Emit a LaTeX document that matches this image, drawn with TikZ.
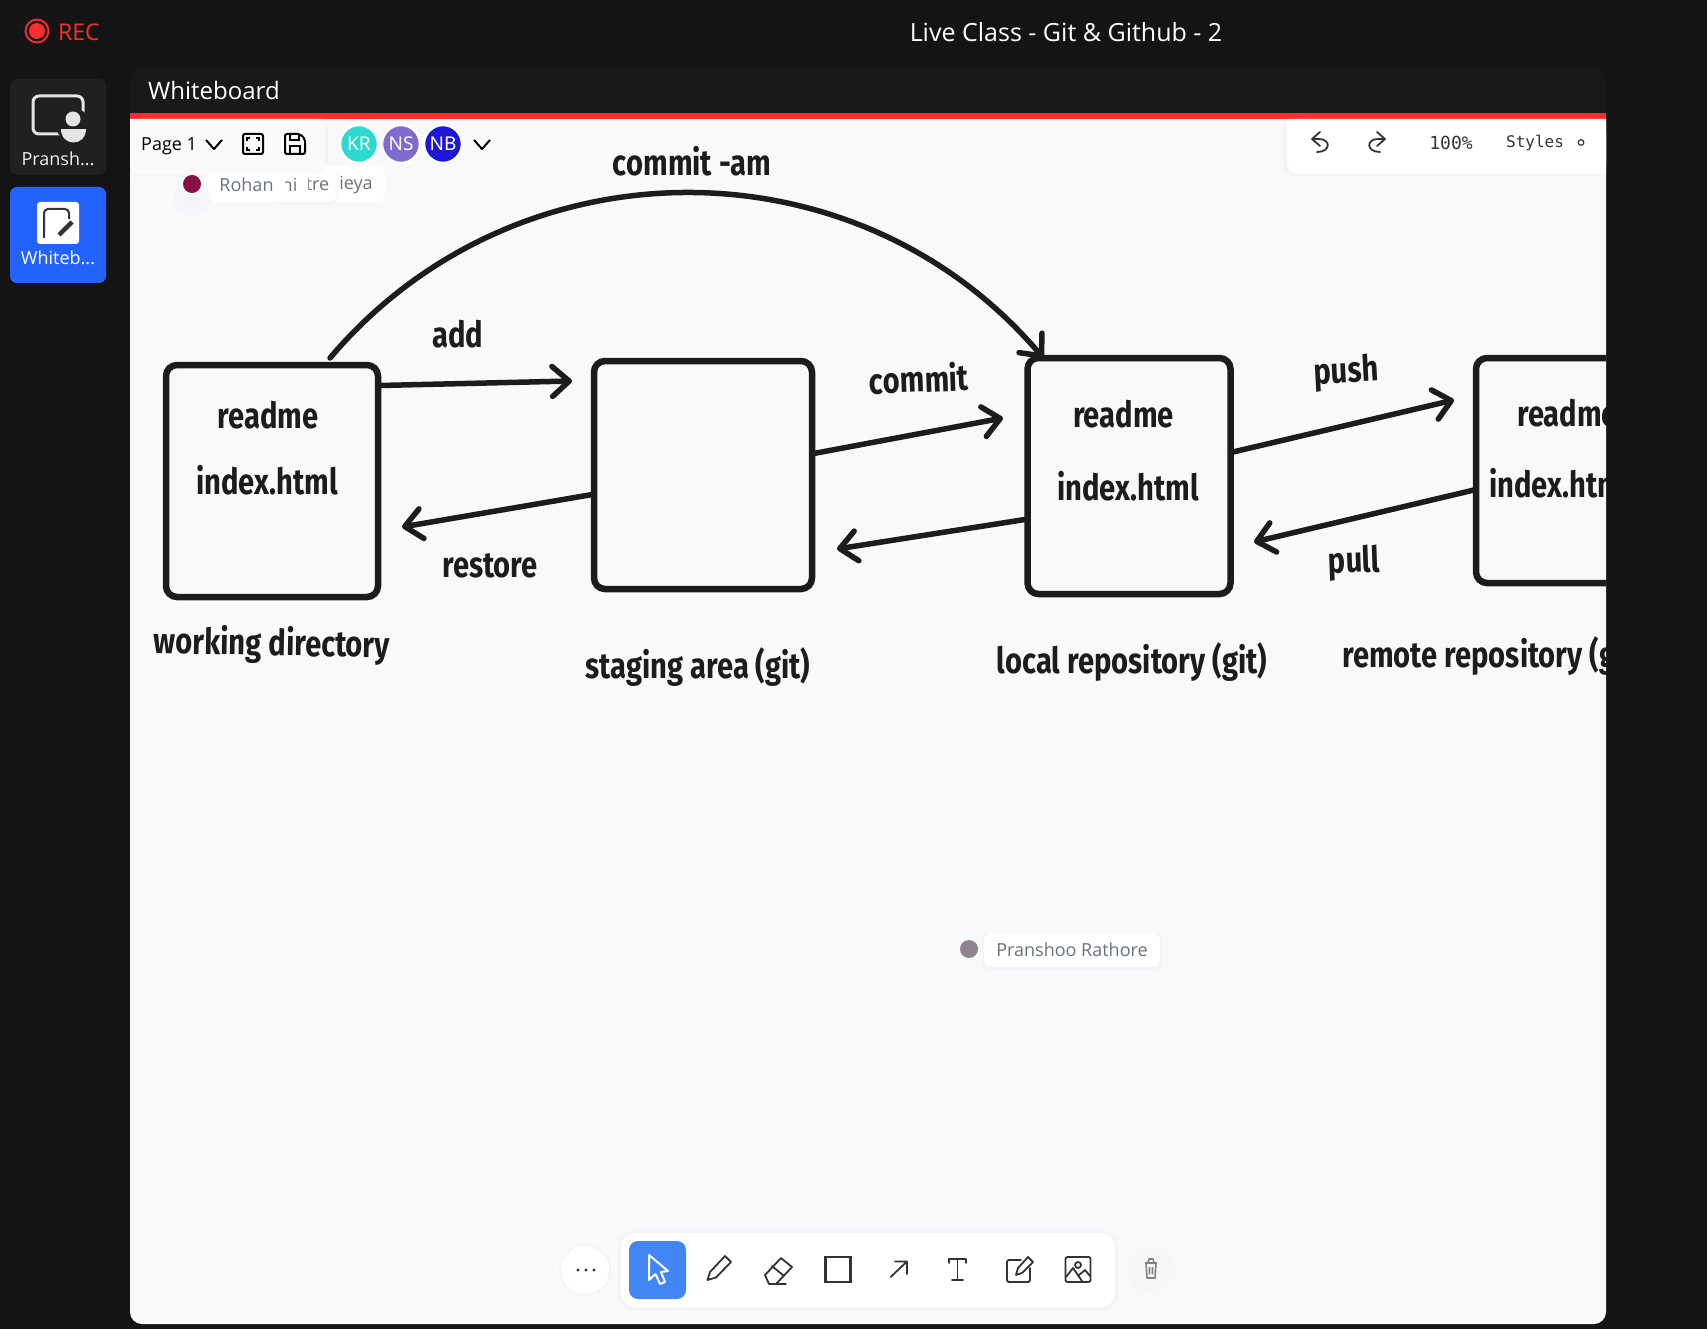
\documentclass[tikz,border=0pt]{standalone}
\usepackage{fontspec}
\usepackage{tikz}
\usetikzlibrary{arrows.meta}
\setmainfont{Noto Sans}
\setmonofont{DejaVu Sans Mono}
\newfontfamily\handfont[FakeStretch=.81,BoldFont={Fira Sans Bold}]{Fira Sans}
\newfontfamily\uifont{Open Sans}
\definecolor{bgdark}{HTML}{141414}
\definecolor{headdark}{HTML}{181818}
\definecolor{tiledark}{HTML}{202020}
\definecolor{boardcol}{HTML}{F8F9FB}
\definecolor{recred}{HTML}{FF2D2D}
\definecolor{tileblue}{HTML}{2463FB}
\definecolor{toolblue}{HTML}{4285F4}
\definecolor{inkcol}{HTML}{1C1C1C}
\definecolor{iconcol}{HTML}{333333}
\definecolor{greytxt}{HTML}{6B7280}
\definecolor{shadecol}{HTML}{F3F4F7}
\definecolor{dotrohan}{HTML}{851445}
\definecolor{dotpransh}{HTML}{8F8390}
\definecolor{avkrcol}{HTML}{2DD9CC}
\definecolor{avnscol}{HTML}{7F6BCF}
\definecolor{avnbcol}{HTML}{1E17D6}
\tikzstyle{box}=[draw=inkcol,line width=6.5pt,rounded corners=11pt,inner sep=0pt,outer sep=0pt]
\tikzstyle{arw}=[draw=inkcol,line width=5.5pt,line cap=round,-{Straight Barb[length=17pt,width=30pt,line width=5.5pt,round]}]
\tikzstyle{hand}=[inkcol,inner sep=0pt,font=\handfont\bfseries\fontsize{36}{36}\selectfont]
\tikzstyle{ui}=[inner sep=0pt,font=\uifont\fontsize{18}{18}\selectfont]
\tikzstyle{ico}=[draw=iconcol,line width=1.8pt,line join=round,line cap=round]
\tikzstyle{card}=[fill=white,rounded corners=8pt]
\tikzstyle{avatar}=[circle,draw=white,line width=2.5pt,minimum size=38pt,inner sep=0pt,text=white,font=\fontsize{19}{19}\selectfont]
\begin{document}
\begin{tikzpicture}[x=1pt,y=-1pt]
	\useasboundingbox[fill=bgdark] (0,0) rectangle (1707,1329);
	% window
	\fill[headdark,rounded corners=14pt] (130,68) rectangle (1606,130);
	\fill[boardcol,rounded corners=12pt] (130,110) rectangle (1606,1324);
	\fill[boardcol] (130,110) rectangle (1606,140);
	\fill[headdark] (130,90) rectangle (1606,113);
	\fill[recred] (130,113) rectangle (1606,119);
	\node[ui,white,anchor=west,font=\uifont\fontsize{24}{24}\selectfont] (boardtitle) at (148,91) {Whiteboard};
	\node[ui,white,font=\uifont\fontsize{25}{25}\selectfont] (classtitle) at (1066,32) {Live Class - Git \& Github - 2};
	% rec
	\draw[recred,line width=1.8pt] (37,31) circle (11.5pt);
	\fill[recred] (37,31) circle (8pt);
	\node[ui,recred,anchor=west,font=\uifont\fontsize{23}{23}\selectfont] (rectxt) at (58,32) {REC};
	% sidebar
	\fill[tiledark,rounded corners=7pt] (10,79) rectangle (106,175);
	\draw[white!90!black,line width=3pt,rounded corners=6pt] (33,96) rectangle (83,134);
	\fill[tiledark] (73,125) circle (17pt);
	\fill[white!90!black] (73,119) circle (7.5pt);
	\fill[white!90!black] (61,129) .. controls (61,147) and (86,147) .. (86,129) -- cycle;
	\node[ui,white!95!black] (tile1txt) at (58,159) {Pransh...};
	\fill[tileblue,rounded corners=7pt] (10,187) rectangle (106,283);
	\fill[white,rounded corners=3pt] (37,202) rectangle (79,244);
	\draw[iconcol,line width=2pt,rounded corners=4pt] (44,238) -- (44,209) -- (69,209) -- (69,219);
	\draw[iconcol,line width=4.5pt] (72,222) -- (59,235);
	\node[ui,white] (tile2txt) at (58,258) {Whiteb...};
	% top left card
	\fill[shadecol,rounded corners=10pt] (130,119) rectangle (328,177);
	\fill[card] (330,166) rectangle (385,202);
	\fill[card] (300,166) rectangle (341,202);
	\node[ui,text=greytxt] (roh3) at (356,185) {ieya};
	\fill[shadecol,rounded corners=8pt] (270,168) rectangle (338,205);
	\fill[card] (270,168) rectangle (337,202);
	\node[ui,text=greytxt] (roh2) at (317.5,185) {tre};
	\fill[card] (250,168) rectangle (308,202);
	\node[ui,text=greytxt] (roh1) at (289.5,185) {ni};
	\fill[card] (207,168) rectangle (285,202);
	\node[ui,text=greytxt] (roh0) at (246.5,185) {Rohan};
	\fill[shadecol!60!boardcol] (192,199) circle (18pt);
	\fill[shadecol] (192,199) circle (8pt);
	\fill[dotrohan] (192,184) circle (9pt);
	\fill[white!98!black] (130,119) -- (325,119) [rounded corners=10pt] -- (325,174) -- (130,174) [sharp corners] -- cycle;
	\node[ui,black,anchor=west] (pagetxt) at (141,146) {Page 1};
	\draw[black,line width=2pt,line join=round] (206,140) -- (214,149) -- (222,140);
	\draw[black,line width=2pt,rounded corners=2pt] (243,134) rectangle (263,154);
	\draw[black,line width=1.6pt] (247,141) -- (247,138) -- (250,138) (256,138) -- (259,138) -- (259,141) (259,147) -- (259,150) -- (256,150) (250,150) -- (247,150) -- (247,147);
	\draw[black,line width=2pt,rounded corners=2pt] (285,134) -- (300,134) -- (305,139) -- (305,154) -- (285,154) -- cycle;
	\draw[black,line width=1.6pt] (290,134) -- (290,140) -- (299,140) -- (299,134) (290,154) -- (290,146) -- (300,146) -- (300,154);
	% avatars
	\node[avatar,fill=avkrcol] (avkr) at (359,144) {KR};
	\node[avatar,fill=avnscol] (avns) at (401,144) {NS};
	\node[avatar,fill=avnbcol] (avnb) at (443,144) {NB};
	\draw[black,line width=2pt,line join=round] (474,140) -- (482,149) -- (490,140);
	% top right card
	\fill[shadecol,rounded corners=14pt] (1283,119) rectangle (1606,177);
	\fill[white] (1287,119) -- (1606,119) -- (1606,174) [rounded corners=12pt] -- (1287,174) [sharp corners] -- cycle;
	\draw[ico] (1320,132) -- (1312,139) -- (1320,146) (1312,139) -- (1319,139) .. controls (1331,139) and (1331,152) .. (1317,152);
	\draw[ico] (1377,132) -- (1385,139) -- (1377,146) (1385,139) -- (1378,139) .. controls (1366,139) and (1366,152) .. (1380,152);
	\node[ui,iconcol,font=\ttfamily\fontsize{18}{18}\selectfont] (zoomtxt) at (1451,143) {100\%};
	\node[ui,iconcol,font=\ttfamily\fontsize{16}{16}\selectfont] (stylestxt) at (1535,143) {Styles};
	\draw[iconcol,line width=1.2pt] (1581,142.5) circle (2.8pt);
	% other cursor
	\fill[dotpransh] (969,949) circle (9pt);
	\fill[shadecol,rounded corners=8pt] (982,933) rectangle (1162,970);
	\fill[card] (984,933) rectangle (1160,967);
	\node[ui,text=greytxt] (cursortxt) at (1072,950) {Pranshoo Rathore};
	% bottom toolbar
	\fill[shadecol] (585,1270) circle (26pt);
	\fill[white] (585,1270) circle (24pt);
	\foreach \dotx in {578,586,594} \fill[iconcol] (\dotx,1270) circle (1.6pt);
	\fill[shadecol,rounded corners=16pt] (618,1230) rectangle (1118,1310);
	\fill[white,rounded corners=14pt] (621,1233) rectangle (1115,1307);
	\fill[toolblue,rounded corners=9pt] (629,1241) rectangle (686,1299);
	\draw[white,line width=2pt,line join=round] (649,1255) -- (649,1280) -- (655.5,1274) -- (660,1284) -- (665,1282) -- (661,1272) -- (668,1271) -- cycle;
	\draw[ico] (707.5,1280) -- (710,1272) -- (725,1256) -- (731,1262) -- (716,1277.5) -- cycle;
	\draw[ico] (765,1275) -- (781,1258) -- (792,1267) -- (776,1284) -- (769,1284) -- cycle (772,1266) -- (784,1276) (772,1284) -- (786,1284);
	\draw[iconcol,line width=2.2pt] (825.5,1257) rectangle (850.5,1282);
	\draw[ico] (890.6,1277) -- (907,1261.5) (895,1261.5) -- (907,1261.5) -- (907,1274);
	\draw[ico] (949,1263) -- (949,1259) -- (966,1259) -- (966,1263) (957.5,1259) -- (957.5,1280) (952,1280) -- (963,1280);
	\draw[ico,rounded corners=2pt] (1021,1260) -- (1007,1260) -- (1007,1282) -- (1030,1282) -- (1030,1268);
	\draw[ico] (1016,1275) -- (1018,1268) -- (1028,1257) -- (1033,1262) -- (1022,1273) -- cycle;
	\draw[ico,rounded corners=2pt] (1065.5,1257) rectangle (1090.5,1282);
	\draw[ico] (1078,1265) circle (3pt) (1066,1277) -- (1073,1268) -- (1082,1281) (1079,1275) -- (1085,1270) -- (1090,1276);
	\fill[shadecol!70!white] (1151,1270) circle (24pt);
	\draw[gray,line width=1.6pt,line join=round] (1145,1263) -- (1157,1263) (1148,1263) -- (1149,1259) -- (1153,1259) -- (1154,1263) (1146,1263) -- (1147,1278) -- (1155,1278) -- (1156,1263) (1149.5,1267) -- (1149.5,1274) (1152.5,1267) -- (1152.5,1274);
	% the drawing
	\begin{scope}
		\clip (130,119) rectangle (1606,1324);
		\node[box,minimum width=212pt,minimum height=232pt] (wdir) at (272,481) {};
		\node[box,minimum width=218pt,minimum height=228pt] (stag) at (703,475) {};
		\node[box,minimum width=203pt,minimum height=236pt] (lrepo) at (1129,476) {};
		\node[box,minimum width=216pt,minimum height=225pt] (rrepo) at (1584,470.5) {};
		\node[hand] (wdirread) at (268,415) {readme};
		\node[hand] (wdirindex) at (267,480) {index.html};
		\node[hand] (lreporead) at (1123.5,414) {readme};
		\node[hand] (lrepoindex) at (1128,486) {index.html};
		\node[hand,anchor=west] (rreporead) at (1517,413) {readme};
		\node[hand,anchor=west] (rrepoindex) at (1489,483) {index.html};
		\node[hand,rotate=-1] (wdirname) at (272,645) {working directory};
		\node[hand] (stagname) at (698,667) {staging area (git)};
		\node[hand] (lreponame) at (1132,662) {local repository (git)};
		\node[hand,anchor=west] (rreponame) at (1342,656) {remote repository (git)};
		\node[hand] (lbladd) at (458,334) {add};
		\node[hand,rotate=2] (lblcommit) at (919,378) {commit};
		\node[hand] (lblrestore) at (490,566) {restore};
		\node[hand,rotate=3] (lblpush) at (1346,373) {push};
		\node[hand,rotate=2] (lblpull) at (1354,563) {pull};
		\node[hand] (lblam) at (692,161) {commit -am};
		\coordinate (amstart) at (330,358);
		\coordinate (addtip) at (572,381);
		\coordinate (restoretip) at (402,527);
		\coordinate (committip) at (1003,418);
		\coordinate (backtip) at (837,549);
		\coordinate (pushtip) at (1454,400);
		\coordinate (pulltip) at (1254,542);
		\draw[arw] (amstart) .. controls (516,138) and (857,138) .. (lrepo.126.2);
		\draw[arw] (wdir.42.5) -- (addtip);
		\draw[arw] (stag.190.4) -- (restoretip);
		\draw[arw] (stag.11.4) -- (committip);
		\draw[arw] (lrepo.203.4) -- (backtip);
		\draw[arw] (lrepo.13.3) -- (pushtip);
		\draw[arw] (rrepo.190.2) -- (pulltip);
	\end{scope}
\end{tikzpicture}
\end{document}
